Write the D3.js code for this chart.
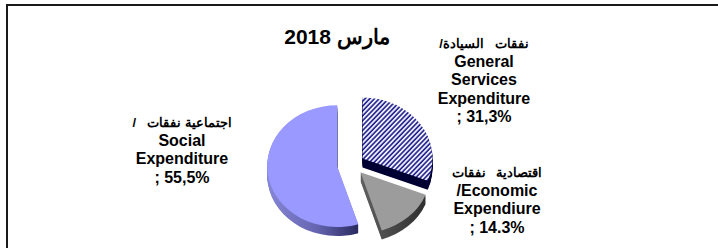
<!DOCTYPE html>
<html>
<head>
<meta charset="utf-8">
<script src="https://cdn.jsdelivr.net/npm/d3@7"></script>
<style>
  html, body { margin: 0; padding: 0; background: #fff; }
  svg { display: block; }
  text { font-family: "Liberation Sans", Arial, sans-serif; font-weight: bold; fill: #000; white-space: pre; }
</style>
</head>
<body>
<script>
// ---------- data (text written in visual left-to-right word order) ----------
const title = "2018 مارس";
const categories = ["General Services Expenditure", "Economic Expendiure", "Social Expenditure"];
const values = [31.3, 14.3, 55.5];
const labelArabic = ["/السيادة   نفقات", "نفقات   اقتصادية", "/   نفقات اجتماعية"];
const labelEnglish = [["General", "Services", "Expenditure"], ["/Economic", "Expendiure"], ["Social", "Expenditure"]];
const labelPct = ["; 31,3%", "; 14.3%", "; 55,5%"];

// ---------- layout / style ----------
const W = 718, H = 248;
const cx = 351, cy = 164.5, rx = 70, k = 0.87, depth = 9, explode = 14, explodeTilt = 0.77;
const topFill = ["url(#hatch)", "#9c9c9c", "#9999ff"];
const sideFill = ["#000033", "url(#gradEco)", "url(#gradSoc)"];
const labelLayout = [
  { x: 484, y: 48 },
  { x: 497, y: 177 },
  { x: 182, y: 127 }
];
const lineH = 18.5;

const svg = d3.select("body").append("svg").attr("width", W).attr("height", H);
const defs = svg.append("defs");

// Draw a line token by token in the given visual (left-to-right) order, centred on x
function visualLine(parent, x, y, str, size) {
  const g = parent.append("g");
  const tokens = str.split(/([\u0600-\u06FF]+)/).filter(p => p.length);
  let pos = 0;
  const nodes = tokens.map(tok => {
    const t = g.append("text").attr("y", y).attr("font-size", size).text(tok);
    const w = t.node().getComputedTextLength();
    t.attr("x", pos);
    pos += w;
    return t;
  });
  g.attr("transform", `translate(${x - pos / 2},0)`);
  return g;
}

// hatch pattern
const pat = defs.append("pattern").attr("id", "hatch").attr("patternUnits", "userSpaceOnUse")
  .attr("width", 3.6).attr("height", 3.6).attr("patternTransform", "rotate(40)");
pat.append("rect").attr("width", 3.6).attr("height", 3.6).attr("fill", "#f4f4ff");
pat.append("line").attr("x1", 1).attr("y1", 0).attr("x2", 1).attr("y2", 3.6)
  .attr("stroke", "#1c1c8c").attr("stroke-width", 1.7);

const gSoc = defs.append("linearGradient").attr("id", "gradSoc").attr("x1", 0).attr("x2", 1).attr("y1", 0).attr("y2", 0);
gSoc.append("stop").attr("offset", "0").attr("stop-color", "#8686d6");
gSoc.append("stop").attr("offset", "0.55").attr("stop-color", "#6464b0");
gSoc.append("stop").attr("offset", "1").attr("stop-color", "#2a2a60");
const gEco = defs.append("linearGradient").attr("id", "gradEco").attr("x1", 0).attr("x2", 1).attr("y1", 0).attr("y2", 0);
gEco.append("stop").attr("offset", "0").attr("stop-color", "#606060");
gEco.append("stop").attr("offset", "1").attr("stop-color", "#2e2e2e");

// frame (cropped)
svg.append("rect").attr("x", 7).attr("y", 5).attr("width", 900).attr("height", 400)
  .attr("fill", "none").attr("stroke", "#1a1a1a").attr("stroke-width", 2);

// title
visualLine(svg, 337, 44, title, 21);

// pie
const data = categories.map((c, i) => ({ c, v: values[i], i }));
const pie = d3.pie().sort(null).value(d => d.v).startAngle(0).endAngle(2 * Math.PI);
const arcs = pie(data);
const arc = d3.arc().innerRadius(0).outerRadius(rx);

arcs.forEach(a => {
  const mid = (a.startAngle + a.endAngle) / 2;
  a.ox = explode * Math.sin(mid);
  a.oy = -explode * Math.cos(mid) * explodeTilt;
});
const order = arcs.slice().sort((a, b) => a.oy - b.oy);

const gPie = svg.append("g");
order.forEach(a => {
  const g = gPie.append("g");
  for (let j = depth; j >= 1; j--) {
    g.append("path")
      .attr("d", arc(a))
      .attr("transform", `translate(${cx + a.ox},${cy + a.oy + j}) scale(1,${k})`)
      .attr("fill", sideFill[a.data.i]);
  }
  g.append("path")
    .attr("d", arc(a))
    .attr("transform", `translate(${cx + a.ox},${cy + a.oy}) scale(1,${k})`)
    .attr("fill", topFill[a.data.i]);
});

// labels
labelLayout.forEach((p, i) => {
  visualLine(svg, p.x, p.y, labelArabic[i], 13);
  const lines = [...labelEnglish[i], labelPct[i]];
  lines.forEach((ln, j) => {
    svg.append("text").attr("x", p.x).attr("y", p.y + (j + 1) * lineH)
      .attr("text-anchor", "middle").attr("font-size", 16).text(ln);
  });
});
</script>
</body>
</html>
